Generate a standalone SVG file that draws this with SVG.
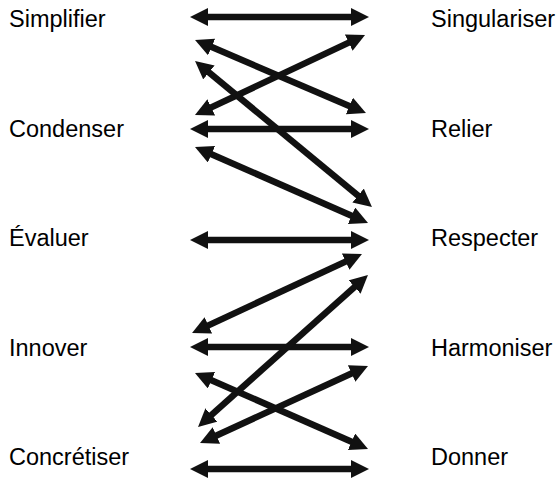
<svg xmlns="http://www.w3.org/2000/svg" width="557" height="483" viewBox="0 0 557 483">
<defs>
<style>
.lbl{font-family:"Liberation Sans",Arial,sans-serif;font-size:23.5px;fill:#000}
.ln{stroke:#111;stroke-width:6.5;fill:none;marker-start:url(#ah);marker-end:url(#ah)}
</style>
<marker id="ah" markerUnits="userSpaceOnUse" viewBox="0 0 18 18" markerWidth="18" markerHeight="18" refX="10" refY="9" orient="auto-start-reverse">
<path d="M0,0 L18,9 L0,18 z" fill="#111"/>
</marker>
</defs>
<rect width="557" height="483" fill="#fff"/>
<g id="connectors">
<line class="ln" x1="198" y1="17" x2="361" y2="17"/>
<line class="ln" x1="198" y1="129" x2="361" y2="129"/>
<line class="ln" x1="198" y1="240" x2="361" y2="240"/>
<line class="ln" x1="198" y1="347" x2="361" y2="347"/>
<line class="ln" x1="198" y1="469" x2="361" y2="469"/>
<line class="ln" x1="202.4" y1="43.1" x2="358.6" y2="109.9"/>
<line class="ln" x1="202.2" y1="111.6" x2="357.8" y2="38.4"/>
<line class="ln" x1="201.2" y1="66.1" x2="365.8" y2="201.9"/>
<line class="ln" x1="202.3" y1="150.2" x2="360.7" y2="219.8"/>
<line class="ln" x1="199.3" y1="329.6" x2="354.7" y2="257.4"/>
<line class="ln" x1="204" y1="421.7" x2="362" y2="280.3"/>
<line class="ln" x1="202.3" y1="376.2" x2="360.7" y2="445.8"/>
<line class="ln" x1="207.3" y1="439.7" x2="360.7" y2="369.3"/>
</g>
<g id="simplifier"><text class="lbl" x="9" y="27">Simplifier</text></g>
<g id="condenser"><text class="lbl" x="9" y="137">Condenser</text></g>
<g id="evaluer"><text class="lbl" x="9" y="246">Évaluer</text></g>
<g id="innover"><text class="lbl" x="9" y="356">Innover</text></g>
<g id="concretiser"><text class="lbl" x="9" y="465">Concrétiser</text></g>
<g id="singulariser"><text class="lbl" x="431" y="27">Singulariser</text></g>
<g id="relier"><text class="lbl" x="431" y="137">Relier</text></g>
<g id="respecter"><text class="lbl" x="431" y="246">Respecter</text></g>
<g id="harmoniser"><text class="lbl" x="431" y="356">Harmoniser</text></g>
<g id="donner"><text class="lbl" x="431" y="465">Donner</text></g>
</svg>
